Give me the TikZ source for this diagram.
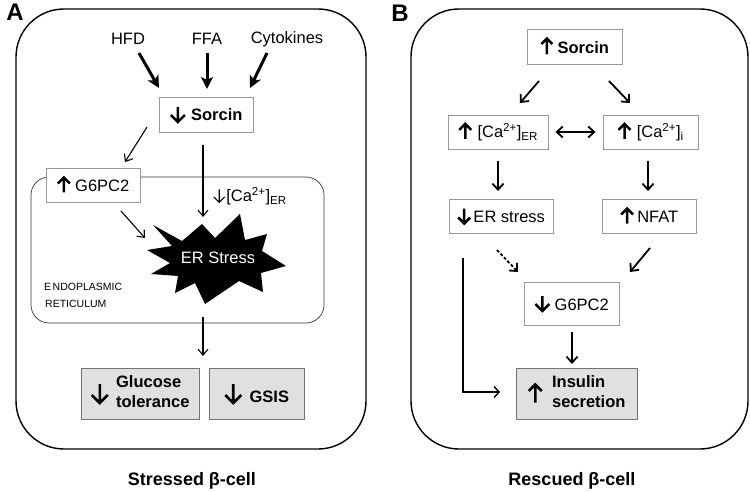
\documentclass[tikz,border=0pt]{standalone}
\usepackage{fontspec}
\setmainfont{Liberation Sans}
\usetikzlibrary{arrows.meta}
% small arrow glyphs drawn with TikZ: [line width]{width}{height}
\newcommand\uarr[3][2.3pt]{\tikz[x=1pt,y=1pt,baseline=0pt]{\draw[line width=#1,line join=miter,line cap=butt] (0,-1)--(0,#3-1.6) (-#2/2,#3-1-#2/2)--(0,#3-1)--(#2/2,#3-1-#2/2);}}
\newcommand\darr[3][2.3pt]{\tikz[x=1pt,y=1pt,baseline=0pt]{\draw[line width=#1,line join=miter,line cap=butt] (0,#3-1)--(0,-0.4) (-#2/2,-1+#2/2)--(0,-1)--(#2/2,-1+#2/2);}}
\begin{document}
\begin{tikzpicture}[x=1pt,y=-1pt,
  every node/.style={font=\fontsize{16.5}{20}\selectfont, inner sep=0pt},
  box/.style={draw=black!40, fill=white, line width=0.9pt, align=center},
  outbox/.style={draw=black!55, fill=black!12, line width=0.9pt, align=center, font=\fontsize{16.5}{20}\selectfont\bfseries},
  cell/.style={draw=black, line width=1.4pt, rounded corners=48pt},
  thickarr/.style={line width=3pt, -{Stealth[length=12pt,width=12pt,inset=3pt]}},
  midarr/.style={line width=1.8pt, -{Straight Barb[length=6pt,width=11pt,line width=1.8pt]}},
  thinarr/.style={line width=1.1pt, -{Straight Barb[length=6pt,width=10pt,line width=1.1pt]}},
  paneltag/.style={font=\fontsize{24}{26}\selectfont\bfseries},
  caption/.style={font=\fontsize{18}{20}\selectfont\bfseries},
  erlabel/.style={font=\fontsize{10.5}{12}\selectfont, anchor=west}
]
\useasboundingbox (0,0) rectangle (750,492);

% ---------------- Panel A ----------------
\node[paneltag] (tagA) at (15,12) {A};
\draw[cell] (16,9) rectangle (366,449);
\draw[black!80, line width=0.7pt, rounded corners=18pt] (31,177) rectangle (324,323);

\node (hfd) at (128,39) {HFD};
\node (ffa) at (207,39) {FFA};
\node (cyt) at (287,39) {Cytokines};

\node[box, minimum width=94pt, minimum height=35pt, font=\fontsize{16.5}{20}\selectfont\bfseries] (sorA) at (206,114.5) {\darr[2.5pt]{14}{15}\hspace{5pt}Sorcin};
\node[box, minimum width=94pt, minimum height=34pt] (g6A) at (93,185) {\uarr[2.5pt]{12}{15}\hspace{4pt}G6PC2};
\node (caER) at (250,196) {\darr[1.1pt]{11}{13}\hspace{1pt}[Ca\textsuperscript{2+}]\textsubscript{ER}};

% starburst
\fill[black] (153,225) -- (182,241) -- (202,224) -- (215,238) -- (240,214) -- (245,240)
  -- (267,234) -- (262,251) -- (286,266) -- (261,273) -- (263,292) -- (239,281)
  -- (205,304) -- (195,283) -- (175,293) -- (178,276) -- (151,274) -- (170,263)
  -- (147,250) -- (172,246) -- cycle;
\node[text=white] (ers) at (218,258) {ER Stress};

\node[erlabel] (endo) at (44,287) {E\kern1.5pt NDOPLASMIC};
\node[erlabel] (reti) at (45,304) {RETICULUM};

\node[outbox, minimum width=118pt, minimum height=51pt] (glu) at (140,393.5) {\begin{tabular}{@{}c@{\hspace{7pt}}l@{}}$\vcenter{\hbox{\darr[2.6pt]{16}{19}}}$ & \begin{tabular}{@{}l@{}}Glucose\\tolerance\end{tabular}\end{tabular}};
\node[outbox, minimum width=95pt, minimum height=51pt] (gsis) at (256.5,393.5) {\darr[2.6pt]{16}{19}\hspace{7pt}GSIS};

\node[caption] (capA) at (192,481) {Stressed β-cell};

\coordinate (hfdS) at (139,53);  \coordinate (hfdE) at (159,88);
\coordinate (ffaS) at (207,53);  \coordinate (ffaE) at (207,89);
\coordinate (cytS) at (267,53);  \coordinate (cytE) at (250,88);
\draw[thickarr] (hfdS) -- (hfdE);
\draw[thickarr] (ffaS) -- (ffaE);
\draw[thickarr] (cytS) -- (cytE);

\coordinate (s1) at (147,127); \coordinate (g1) at (125,162);
\draw[thinarr] (s1) -- (g1);
\coordinate (s2) at (203,145); \coordinate (st1) at (203,217);
\draw[thinarr] (s2) -- (st1);
\coordinate (g2) at (121,211); \coordinate (st2) at (145,238);
\draw[thinarr] (g2) -- (st2);
\coordinate (st3) at (203,317); \coordinate (o1) at (203,356);
\draw[thinarr] (st3) -- (o1);

% ---------------- Panel B ----------------
\node[paneltag] (tagB) at (400,13) {B};
\draw[cell] (411,9) rectangle (748,449);

\node[box, minimum width=95pt, minimum height=35pt, font=\fontsize{16.5}{20}\selectfont\bfseries] (sorB) at (574.5,46.5) {\uarr[2.5pt]{11}{16}\hspace{4pt}Sorcin};
\node[box, minimum width=100pt, minimum height=34pt] (caerB) at (498,132) {\uarr[2.5pt]{12}{15}\hspace{5pt}[Ca\textsuperscript{2+}]\textsubscript{ER}};
\node[box, minimum width=95pt, minimum height=34pt] (caiB) at (650.5,132) {\uarr[2.5pt]{12}{15}\hspace{5pt}[Ca\textsuperscript{2+}]\textsubscript{i}};
\node[box, minimum width=104pt, minimum height=34pt] (ersB) at (501,216) {\darr[2.5pt]{12}{15}\hspace{2pt}ER stress};
\node[box, minimum width=94pt, minimum height=34pt] (nfat) at (649,216) {\uarr[2.5pt]{12}{15}\hspace{3pt}NFAT};
\node[box, minimum width=95pt, minimum height=43pt] (g6B) at (571.5,303.5) {\darr[2.5pt]{14}{15}\hspace{4pt}G6PC2};
\node[outbox, minimum width=121pt, minimum height=51pt] (ins) at (576.5,393.5) {\begin{tabular}{@{}c@{\hspace{9pt}}l@{}}$\vcenter{\hbox{\uarr[2.6pt]{13}{18}}}$ & \begin{tabular}{@{}l@{}}Insulin\\secretion\end{tabular}\end{tabular}};

\node[caption] (capB) at (572,481) {Rescued β-cell};

\coordinate (b1s) at (539,81);  \coordinate (b1e) at (520,103);
\coordinate (b2s) at (609,81);  \coordinate (b2e) at (630,103);
\draw[midarr] (b1s) -- (b1e);
\draw[midarr] (b2s) -- (b2e);
\draw[line width=1.8pt, {Straight Barb[length=6pt,width=11pt,line width=1.8pt]}-{Straight Barb[length=6pt,width=11pt,line width=1.8pt]}] ([xshift=7pt]caerB.east) -- ([xshift=-7pt]caiB.west);
\coordinate (b3s) at (498,161); \coordinate (b3e) at (498,191);
\draw[midarr] (b3s) -- (b3e);
\coordinate (b4s) at (648,161); \coordinate (b4e) at (648,191);
\draw[midarr] (b4s) -- (b4e);
\coordinate (b5s) at (497,250); \coordinate (b5e) at (518,272);
\draw[midarr, dash pattern=on 3pt off 2pt] (b5s) -- (b5e);
\coordinate (b6s) at (650,248); \coordinate (b6e) at (630,272);
\draw[midarr] (b6s) -- (b6e);
\coordinate (b7s) at (572,332); \coordinate (b7e) at (572,364);
\draw[midarr] (b7s) -- (b7e);
\coordinate (b8s) at (463,258); \coordinate (b8e) at (500,392);
\draw[line width=1.4pt, -{Straight Barb[length=5pt,width=11pt,line width=1.4pt]}] (b8s) |- (b8e);

\end{tikzpicture}
\end{document}
